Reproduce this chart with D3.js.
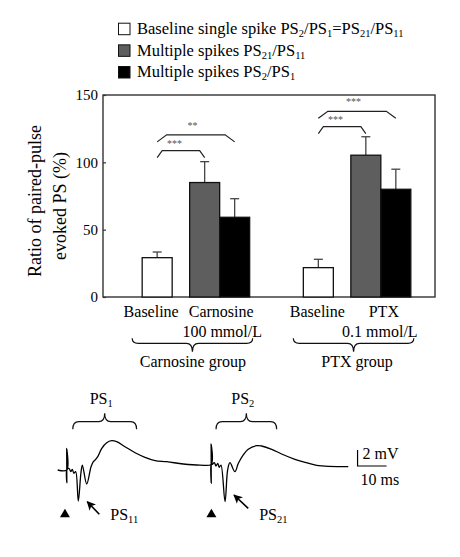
<!DOCTYPE html>
<html><head><meta charset="utf-8">
<script src="https://cdn.jsdelivr.net/npm/d3@7"></script>
<style>
body{margin:0;background:#fff}
svg{display:block}
text{font-family:"Liberation Serif","Times New Roman",serif;fill:#000}
</style>
</head><body><svg id="c" width="460" height="557"></svg>
<script>
// ---------------- data ----------------
const groups = ["Carnosine group", "PTX group"];
const conditions = ["Baseline", "Drug"];
const drugNames = ["Carnosine", "PTX"];
const doseLabels = ["100 mmol/L", "0.1 mmol/L"];
const seriesKeys = ["single", "ps21", "ps2"];
const seriesLegend = ["Baseline single spike PS_2/PS_1=PS_21/PS_11", "Multiple spikes PS_21/PS_11", "Multiple spikes PS_2/PS_1"];
const seriesColors = ["#ffffff", "#5e5e5e", "#000000"];
const baselineMean = [29.2, 21.8];
const baselineSem = [4.2, 6.2];
const ps21Mean = [85.0, 105.3];
const ps21Sem = [15.5, 13.7];
const ps2Mean = [59.2, 80.0];
const ps2Sem = [13.8, 14.9];
const yTicks = [0, 50, 100, 150];
const sigGroup = [0, 0, 1, 1];
const sigTarget = [1, 2, 1, 2];
const sigHeight = [108.7, 120.4, 126.5, 137.9];
const sigLabel = ["***", "**", "***", "***"];
// example field-potential trace (ms, mV)
const traceTime = [0, 3.1, 3.1, 3.15, 3.15, 3.9, 4.5, 5.0, 5.6, 6.2, 7.1, 8.0, 8.5, 10.0, 11.5, 12.3, 12.9, 13.8, 15.2, 16.9, 18.6, 20.3, 23.2, 26.7, 30.1, 33.6, 37.6, 43.3, 49.1, 52.9,
  52.9, 52.95, 52.95, 53.3, 54.0, 54.6, 55.2, 55.7, 56.3, 57.7, 58.6, 59.4, 61.1, 62.3, 64.0, 65.7, 68.6, 70.3, 73.8, 77.2, 81.8, 85.3, 89.3, 100.2];
const traceVolt = [-0.5, -0.5, 2.2, -2.1, -0.5, -0.29, -0.71, -0.41, -0.91, -0.71, -4.38, -0.91, 0.12, -2.25, -0.09, 0.54, 0.75, 1.16, 2.21, 2.91, 3.16, 3.04, 2.41, 1.66, 1.09, 0.66, 0.54, 0.25, 0.12, 0.21,
  2.75, -2.16, 0.21, 0.21, 0.41, 0.0, 0.34, -0.16, 0.12, -4.46, -0.5, 0.41, -0.71, 0.34, 1.38, 2.09, 2.54, 2.5, 2.09, 1.5, 0.84, 0.46, 0.09, -0.09];
const stimTimes = [2.5, 53.0];
const psNames = ["PS_1", "PS_2"];
const psStart = [5.2, 54.6];
const psEnd = [27.2, 75.5];
const spikeNames = ["PS_11", "PS_21"];
const scaleBarMs = 10;
const scaleBarMv = 2;

// ---------------- helpers ----------------
const svg = d3.select("#c");
function richText(sel, str, size, subSize, shift) {
  sel.attr("font-size", size);
  const parts = str.split(/_(\d+)/);
  let pending = 0;
  parts.forEach((p, i) => {
    if (!p) return;
    if (i % 2 === 0) {
      const ts = sel.append("tspan").attr("font-size", size).text(p);
      if (pending) { ts.attr("dy", pending); pending = 0; }
    } else {
      sel.append("tspan").attr("font-size", subSize).attr("dy", shift).text(p);
      pending = -shift;
    }
  });
}
function hBrace(x0, x1, y0, h1, h2, r) {
  const xm = (x0 + x1) / 2;
  const yh = y0 + h1, yt = y0 + h2;
  return `M${x0},${y0} Q${x0},${yh} ${x0 + r},${yh} L${xm - r},${yh} Q${xm},${yh} ${xm},${yt} Q${xm},${yh} ${xm + r},${yh} L${x1 - r},${yh} Q${x1},${yh} ${x1},${y0}`;
}

// ---------------- bar chart ----------------
const plot = {left: 103, right: 435, top: 95, bottom: 297};
const y = d3.scaleLinear().domain([0, 150]).range([plot.bottom, plot.top]);
const xg = d3.scaleBand().domain(groups).range([plot.left, plot.right]).paddingInner(0.24).paddingOuter(0.15);
const xc = d3.scaleBand().domain(conditions).range([0, xg.bandwidth()]).paddingInner(0.04);
const xs = d3.scaleBand().domain(["ps21", "ps2"]).range([0, xc.bandwidth()]);

const bars = [];
groups.forEach((g, i) => {
  const base = xg(g) + xc("Baseline");
  const w = xc.bandwidth() / 2;
  bars.push({g: i, key: "single", x: base + (xc.bandwidth() - w) / 2, w, v: baselineMean[i], e: baselineSem[i], fill: seriesColors[0]});
  const drug = xg(g) + xc("Drug");
  bars.push({g: i, key: "ps21", x: drug + xs("ps21"), w: xs.bandwidth(), v: ps21Mean[i], e: ps21Sem[i], fill: seriesColors[1]});
  bars.push({g: i, key: "ps2", x: drug + xs("ps2"), w: xs.bandwidth(), v: ps2Mean[i], e: ps2Sem[i], fill: seriesColors[2]});
});

// frame
svg.append("rect").attr("x", plot.left).attr("y", plot.top)
  .attr("width", plot.right - plot.left).attr("height", plot.bottom - plot.top)
  .attr("fill", "none").attr("stroke", "#333").attr("stroke-width", 1.4);

// error bars
const eb = svg.append("g").attr("stroke", "#444").attr("stroke-width", 1.3);
bars.forEach(b => {
  const cx = b.x + b.w / 2;
  eb.append("line").attr("x1", cx).attr("x2", cx).attr("y1", y(b.v)).attr("y2", y(b.v + b.e));
  eb.append("line").attr("x1", cx - 4.5).attr("x2", cx + 4.5).attr("y1", y(b.v + b.e)).attr("y2", y(b.v + b.e));
});
// bars
svg.append("g").selectAll("rect").data(bars).join("rect")
  .attr("x", d => d.x).attr("width", d => d.w)
  .attr("y", d => y(d.v)).attr("height", d => y(0) - y(d.v))
  .attr("fill", d => d.fill).attr("stroke", "#111").attr("stroke-width", 1.3);

// y axis
const yAxis = d3.axisLeft(y).tickValues(yTicks).tickSize(-3).tickPadding(5);
const ya = svg.append("g").attr("transform", `translate(${plot.left},0)`).call(yAxis);
ya.select(".domain").remove();
ya.selectAll("line").attr("stroke", "#333").attr("stroke-width", 1.2);
ya.selectAll("text").attr("font-size", 15).attr("font-family", "Liberation Serif").attr("fill", "#000");

// y title
svg.append("text").attr("font-size", 18).attr("text-anchor", "middle")
  .attr("transform", "translate(40.7,201) rotate(-90)").text("Ratio of paired-pulse");
svg.append("text").attr("font-size", 18).attr("text-anchor", "middle")
  .attr("transform", "translate(66,206) rotate(-90)").text("evoked PS (%)");

// significance brackets
const sg = svg.append("g");
sigHeight.forEach((h, i) => {
  const from = bars.find(b => b.g === sigGroup[i] && b.key === "single");
  const to = bars.find(b => b.g === sigGroup[i] && b.key === seriesKeys[sigTarget[i]]);
  const x0 = from.x + from.w / 2, x1 = to.x + to.w / 2;
  const inner = sigTarget[i] === 1;
  const inset = inner ? 5 : 9.5;
  const yy = y(h);
  sg.append("path").attr("d", `M${x0},${yy + 7} L${x0 + inset},${yy} L${x1 - inset},${yy} L${x1},${yy + 7}`)
    .attr("fill", "none").attr("stroke", "#222").attr("stroke-width", 1.2);
  sg.append("text").attr("x", (x0 + x1) / 2 + (inner ? -6.5 : -3.5)).attr("y", yy - (inner ? 9 : 11) + 5)
    .attr("text-anchor", "middle").attr("font-size", 10).style("fill", "#555").text(sigLabel[i]);
});

// category labels
const labelShift = [[-6, 1.5, 2.5], [-1, 3, -1]];
groups.forEach((g, i) => {
  const cb = xg(g) + xc("Baseline") + xc.bandwidth() / 2;
  const cd = xg(g) + xc("Drug") + xc.bandwidth() / 2;
  svg.append("text").attr("x", cb + labelShift[i][0]).attr("y", 316.7).attr("text-anchor", "middle").attr("font-size", 16).text("Baseline");
  svg.append("text").attr("x", cd + labelShift[i][1]).attr("y", 316.7).attr("text-anchor", "middle").attr("font-size", 16).text(drugNames[i]);
  svg.append("text").attr("x", cd + labelShift[i][2]).attr("y", 336.7).attr("text-anchor", "middle").attr("font-size", 16).text(doseLabels[i]);
  const bx0 = xg(g) + 5, bx1 = xg(g) + xg.bandwidth() + 3;
  svg.append("path").attr("d", hBrace(bx0, bx1, 338.3, 5, 13.4, 6))
    .attr("fill", "none").attr("stroke", "#111").attr("stroke-width", 1.2);
  svg.append("text").attr("x", (bx0 + bx1) / 2 + (i === 0 ? 0.5 : 3.5)).attr("y", 366.5)
    .attr("text-anchor", "middle").attr("font-size", 16).text(g);
});

// legend
const ly = d3.scaleLinear().domain([0, 2]).range([22.7, 66]);
seriesLegend.forEach((s, i) => {
  svg.append("rect").attr("x", 118.5).attr("y", ly(i) + 0.5).attr("width", 11.5).attr("height", 11.5)
    .attr("fill", seriesColors[i]).attr("stroke", "#111").attr("stroke-width", 1);
  const t = svg.append("text").attr("x", 137).attr("y", ly(i) + 11.3);
  richText(t, s, 16.5, 10.5, 3);
});

// ---------------- example trace ----------------
const tx = d3.scaleLinear().domain([0, 100]).range([57.7, 347.7]);
const vy = d3.scaleLinear().domain([0, 2]).range([466, 450]);
const pts = traceTime.map((t, i) => [t, traceVolt[i]]);
svg.append("path").datum(pts)
  .attr("d", d3.line().x(d => tx(d[0])).y(d => vy(d[1])).curve(d3.curveCatmullRom.alpha(0.5)))
  .attr("fill", "none").attr("stroke", "#000").attr("stroke-width", 1.3);

// stimulus markers
stimTimes.forEach(t => {
  svg.append("path").attr("d", "M0,-4.3 L5,4.3 L-5,4.3 Z")
    .attr("transform", `translate(${tx(t)},${513})`).attr("fill", "#000");
});

// PS windows (braces above)
psNames.forEach((n, i) => {
  const x0 = tx(psStart[i]), x1 = tx(psEnd[i]);
  svg.append("path").attr("d", hBrace(x0, x1, 429.3, -7.6, -16, 6))
    .attr("fill", "none").attr("stroke", "#111").attr("stroke-width", 1.2);
  const t = svg.append("text").attr("x", (x0 + x1) / 2 - 3.5).attr("y", 404).attr("text-anchor", "middle");
  richText(t, n, 16, 10.5, 3);
});

// arrows to first population spikes
const arrowHead = [[10.2, -4.46], [60.8, -3.63]];
const arrowTail = [[14.35, -6.04], [65.7, -5.29]];
svg.append("defs").append("marker").attr("id", "ah").attr("viewBox", "0 0 10 10")
  .attr("refX", 9).attr("refY", 5).attr("markerWidth", 9).attr("markerHeight", 9)
  .attr("markerUnits", "userSpaceOnUse").attr("orient", "auto")
  .append("path").attr("d", "M0,0 L10,5 L0,10 L2.5,5 Z").attr("fill", "#000");
spikeNames.forEach((n, i) => {
  svg.append("line").attr("x1", tx(arrowTail[i][0])).attr("y1", vy(arrowTail[i][1]))
    .attr("x2", tx(arrowHead[i][0])).attr("y2", vy(arrowHead[i][1]))
    .attr("stroke", "#000").attr("stroke-width", 1.6).attr("marker-end", "url(#ah)");
  const t = svg.append("text").attr("x", tx(arrowTail[i][0]) + 11).attr("y", 519.5);
  richText(t, n, 16, 10.5, 3);
});

// scale bar
const sbT = 103.4;
svg.append("path")
  .attr("d", `M${tx(sbT)},${vy(scaleBarMv)} L${tx(sbT)},${vy(0)} L${tx(sbT + scaleBarMs)},${vy(0)}`)
  .attr("fill", "none").attr("stroke", "#000").attr("stroke-width", 1.2);
svg.append("text").attr("x", tx(sbT) + 5).attr("y", 459).attr("font-size", 16).text(scaleBarMv + " mV");
svg.append("text").attr("x", tx(sbT) + 3).attr("y", 485).attr("font-size", 16).text(scaleBarMs + " ms");
</script></body></html>
